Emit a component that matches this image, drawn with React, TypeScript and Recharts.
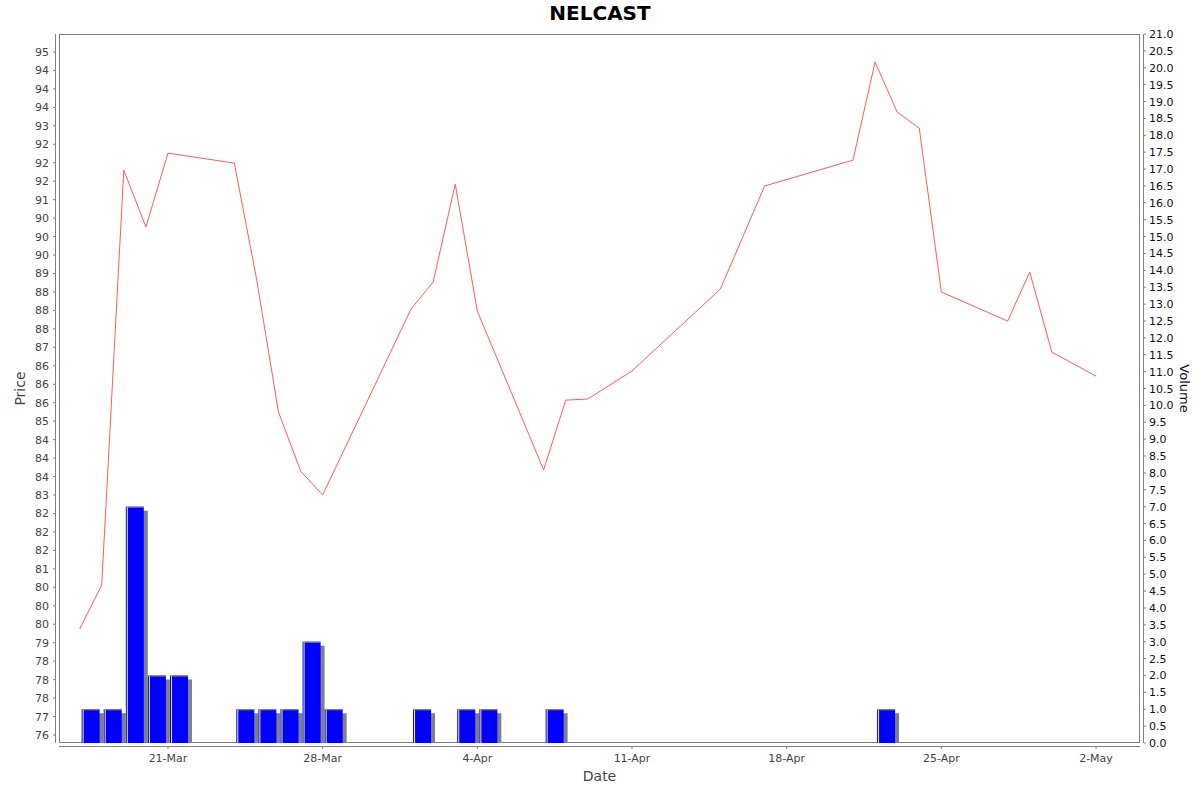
import { ComposedChart, Line, Bar, XAxis, YAxis, ReferenceArea } from 'recharts'

// trading days, closing price and volume
const dates = [
  '17-Mar', '18-Mar', '19-Mar', '20-Mar', '21-Mar', '24-Mar', '25-Mar', '26-Mar', '27-Mar', '28-Mar',
  '1-Apr', '2-Apr', '3-Apr', '4-Apr', '7-Apr', '8-Apr', '9-Apr', '11-Apr', '15-Apr', '17-Apr',
  '21-Apr', '22-Apr', '23-Apr', '24-Apr', '25-Apr', '28-Apr', '29-Apr', '30-Apr', '2-May',
]
const prices = [
  79.37, 80.56, 91.8, 90.26, 92.26, 91.99, 88.88, 85.25, 83.65, 83.0,
  88.04, 88.77, 91.42, 87.98, 83.68, 85.57, 85.6, 86.36, 88.58, 91.37,
  92.07, 94.73, 93.37, 92.94, 88.5, 87.71, 89.04, 86.87, 86.22,
]
const volumes = [
  1, 1, 7, 2, 2, 1, 1, 1, 3, 1,
  1, 0, 1, 1, 1, 0, 0, 0, 0, 0,
  0, 1, 0, 0, 0, 0, 0, 0, 0,
]

const xTickLabels = ['21-Mar', '28-Mar', '4-Apr', '11-Apr', '18-Apr', '25-Apr', '2-May']
const priceTicks = [
  76.5, 77, 77.5, 78, 78.5, 79, 79.5, 80, 80.5, 81, 81.5, 82, 82.5, 83, 83.5, 84, 84.5, 85, 85.5,
  86, 86.5, 87, 87.5, 88, 88.5, 89, 89.5, 90, 90.5, 91, 91.5, 92, 92.5, 93, 93.5, 94, 94.5, 95,
]
const volumeTicks = [
  0, 0.5, 1, 1.5, 2, 2.5, 3, 3.5, 4, 4.5, 5, 5.5, 6, 6.5, 7, 7.5, 8, 8.5, 9, 9.5, 10, 10.5,
  11, 11.5, 12, 12.5, 13, 13.5, 14, 14.5, 15, 15.5, 16, 16.5, 17, 17.5, 18, 18.5, 19, 19.5, 20, 20.5, 21,
]

const MONTHS: Record<string, number> = { Mar: 2, Apr: 3, May: 4 }
const dayOf = (label: string) => {
  const [d, m] = label.split('-')
  return (Date.UTC(2025, MONTHS[m], Number(d)) - Date.UTC(2025, 2, 17)) / 86400000
}

const data = dates.map((d, i) => ({
  day: dayOf(d),
  mid: dayOf(d) + 0.5,
  price: prices[i],
  volume: volumes[i],
}))
const xTicks = xTickLabels.map(dayOf)

const X_DOMAIN: [number, number] = [-0.933, 47.99]
const PRICE_DOMAIN: [number, number] = [76.283, 95.487]
const VOLUME_DOMAIN: [number, number] = [0, 21]

const PLOT_LEFT = 59
const PLOT_RIGHT = 1140
const PLOT_BOTTOM = 743

const FONT = '"DejaVu Sans", sans-serif'
const AXIS_GREY = '#808080'

// java DecimalFormat style rounding (half even)
const halfEven = (v: number) => {
  const f = Math.floor(v)
  const diff = v - f
  if (Math.abs(diff - 0.5) < 1e-9) return String(f % 2 === 0 ? f : f + 1)
  return String(Math.round(v))
}

function PlotFrame({ x, y, width, height }: any) {
  return (
    <g fill="none" stroke={AXIS_GREY} strokeWidth={1}>
      <rect x={x + 0.5} y={y + 0.5} width={width - 1} height={height - 1} />
      <line x1={x - 3.5} x2={x - 3.5} y1={y} y2={y + height} />
      <line x1={x + width + 3.5} x2={x + width + 3.5} y1={y} y2={y + height} />
      <line x1={x} x2={x + width} y1={y + height + 3.5} y2={y + height + 3.5} />
    </g>
  )
}

function VolumeBar({ x, y, width, height }: any) {
  if (!height || height <= 0) return <g />
  return (
    <g>
      <rect x={x + 4} y={y + 4} width={width} height={Math.max(0, height - 4)} fill="#808080" />
      <rect x={x} y={y} width={width} height={height} fill="#0000ff" />
      <rect x={x + 1} y={y} width={1} height={height} fill="#e8e8ff" />
      <rect x={x} y={y} width={width} height={1} fill="#7f7fff" />
    </g>
  )
}

function PriceTick({ y, payload }: any) {
  const ax = PLOT_LEFT - 4
  return (
    <g>
      <line x1={ax - 2} x2={ax} y1={y} y2={y} stroke={AXIS_GREY} />
      <text x={ax - 6} y={y + 4} textAnchor="end" fontSize={11} fill="#444" fontFamily={FONT}>
        {halfEven(payload.value)}
      </text>
    </g>
  )
}

function VolumeTick({ y, payload }: any) {
  const ax = PLOT_RIGHT + 4
  return (
    <g>
      <line x1={ax} x2={ax + 2} y1={y} y2={y} stroke={AXIS_GREY} />
      <text x={ax + 5} y={y + 4} textAnchor="start" fontSize={11} fill="#111" fontFamily={FONT}>
        {payload.value.toFixed(1)}
      </text>
    </g>
  )
}

function DateTick({ x, payload, index }: any) {
  const ay = PLOT_BOTTOM + 4
  return (
    <g>
      <line x1={x} x2={x} y1={ay} y2={ay + 2} stroke={AXIS_GREY} />
      <text x={x} y={ay + 15} textAnchor="middle" fontSize={11} fill="#444" fontFamily={FONT}>
        {xTickLabels[index] ?? payload.value}
      </text>
    </g>
  )
}

export default function App() {
  return (
    <div style={{ position: 'relative', width: 1200, height: 792, background: '#fff' }}>
      <style>{'body{margin:0}'}</style>
      <div
        style={{
          position: 'absolute',
          top: 0,
          left: 0,
          width: 1200,
          textAlign: 'center',
          fontFamily: FONT,
          fontWeight: 'bold',
          fontSize: 20,
          lineHeight: '26px',
          color: '#000',
        }}
      >
        NELCAST
      </div>
      <ComposedChart width={1200} height={792} data={data} margin={{ top: 34, right: 0, bottom: 0, left: 0 }}>
        <XAxis
          xAxisId="line"
          dataKey="day"
          type="number"
          domain={X_DOMAIN}
          allowDataOverflow
          ticks={xTicks}
          interval={0}
          height={49}
          axisLine={false}
          tickLine={false}
          tickSize={0}
          tickMargin={0}
          tick={<DateTick />}
          label={{
            content: ({ viewBox }: any) => (
              <text x={viewBox.x + viewBox.width / 2} y={781} textAnchor="middle" fontSize={14} fill="#444" fontFamily={FONT}>
                Date
              </text>
            ),
          }}
        />
        <XAxis xAxisId="bar" dataKey="mid" type="number" domain={X_DOMAIN} allowDataOverflow hide />
        <YAxis
          yAxisId="price"
          orientation="left"
          type="number"
          domain={PRICE_DOMAIN}
          allowDataOverflow
          ticks={priceTicks}
          interval={0}
          width={59}
          axisLine={false}
          tickLine={false}
          tickSize={0}
          tickMargin={0}
          tick={<PriceTick />}
          label={{
            content: ({ viewBox }: any) => {
              const cy = viewBox.y + viewBox.height / 2
              return (
                <text x={25} y={cy} transform={`rotate(-90, 25, ${cy})`} textAnchor="middle" fontSize={14} fill="#444" fontFamily={FONT}>
                  Price
                </text>
              )
            },
          }}
        />
        <YAxis
          yAxisId="vol"
          orientation="right"
          type="number"
          domain={VOLUME_DOMAIN}
          allowDataOverflow
          ticks={volumeTicks}
          interval={0}
          width={60}
          axisLine={false}
          tickLine={false}
          tickSize={0}
          tickMargin={0}
          tick={<VolumeTick />}
          label={{
            content: ({ viewBox }: any) => {
              const cy = viewBox.y + viewBox.height / 2
              return (
                <text x={1180} y={cy} transform={`rotate(90, 1180, ${cy})`} textAnchor="middle" fontSize={13} fill="#111" fontFamily={FONT}>
                  Volume
                </text>
              )
            },
          }}
        />
        <ReferenceArea
          xAxisId="line"
          yAxisId="price"
          x1={X_DOMAIN[0]}
          x2={X_DOMAIN[1]}
          y1={PRICE_DOMAIN[0]}
          y2={PRICE_DOMAIN[1]}
          ifOverflow="visible"
          shape={<PlotFrame />}
        />
        <Bar
          xAxisId="bar"
          yAxisId="vol"
          dataKey="volume"
          barSize={18}
          shape={<VolumeBar />}
          isAnimationActive={false}
        />
        <Line
          xAxisId="line"
          yAxisId="price"
          dataKey="price"
          type="linear"
          stroke="#ff5a5a"
          strokeWidth={1}
          dot={false}
          activeDot={false}
          isAnimationActive={false}
        />
      </ComposedChart>
    </div>
  )
}
